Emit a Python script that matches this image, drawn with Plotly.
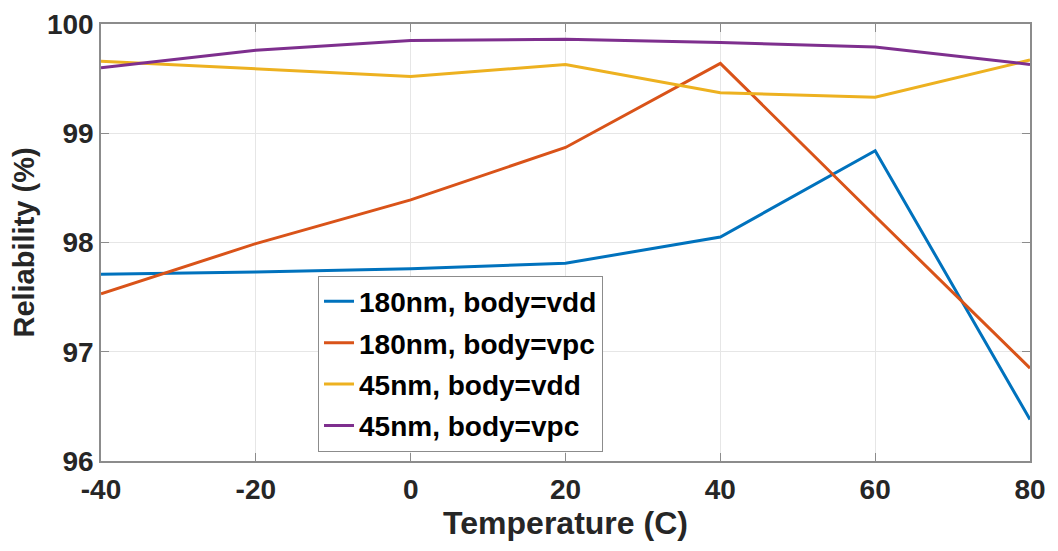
import plotly.graph_objects as go

temperature = [-40, -20, 0, 20, 40, 60, 80]
x_ticklabels = ["-40", "-20", "0", "20", "40", "60", "80"]
y_ticks = [96, 97, 98, 99, 100]
s180_vdd = [97.71, 97.73, 97.76, 97.81, 98.05, 98.84, 96.38]
s180_vpc = [97.53, 97.99, 98.39, 98.87, 99.64, 98.24, 96.85]
s45_vdd = [99.66, 99.59, 99.52, 99.63, 99.37, 99.33, 99.67]
s45_vpc = [99.60, 99.76, 99.85, 99.86, 99.83, 99.79, 99.63]

names = ["180nm, body=vdd", "180nm, body=vpc", "45nm, body=vdd", "45nm, body=vpc"]
series = [s180_vdd, s180_vpc, s45_vdd, s45_vpc]
colors = ["#0072BD", "#D95319", "#EDB120", "#7E2F8E"]

FONT = "Liberation Sans, Arial, sans-serif"

fig = go.Figure()
for i, (n, s, c) in enumerate(zip(names, series, colors)):
    fig.add_trace(go.Scatter(x=temperature, y=s, mode="lines", name=n,
                             legendgroup=f"g{i}",
                             line=dict(color=c, width=3)))

axis_common = dict(
    showline=True, linecolor="#8c8c8c", linewidth=1.5, mirror="allticks",
    ticks="inside", ticklen=8, tickcolor="#8c8c8c",
    showgrid=True, gridcolor="#e6e6e6", gridwidth=1,
    zeroline=False, automargin=False, ticklabeloverflow="allow",
    tickfont=dict(family=FONT, size=28, color="#262626", weight="bold"),
)

fig.update_layout(
    width=1050, height=543,
    margin=dict(l=93, r=28, t=16, b=90),
    paper_bgcolor="white", plot_bgcolor="white",
    font=dict(family=FONT, color="#262626"),
    xaxis=dict(range=[-40, 80], tickvals=temperature, ticktext=x_ticklabels,
               ticklabelstandoff=3,
               title=dict(text="Temperature (C)", standoff=7,
                          font=dict(family=FONT, size=32, color="#262626", weight="bold")),
               **axis_common),
    yaxis=dict(range=[96, 100], tickvals=y_ticks,
               title=dict(text="Reliability (%)", standoff=7,
                          font=dict(family=FONT, size=29, color="#262626", weight="bold")),
               **axis_common),
    legend=dict(x=0.2336, y=0.4244, xanchor="left", yanchor="top",
                bgcolor="white", bordercolor="#8c8c8c", borderwidth=1,
                font=dict(family=FONT, size=28, color="black", weight="bold"),
                traceorder="grouped", tracegroupgap=2, itemwidth=30),
    showlegend=True,
)

fig.write_html("out.html")
